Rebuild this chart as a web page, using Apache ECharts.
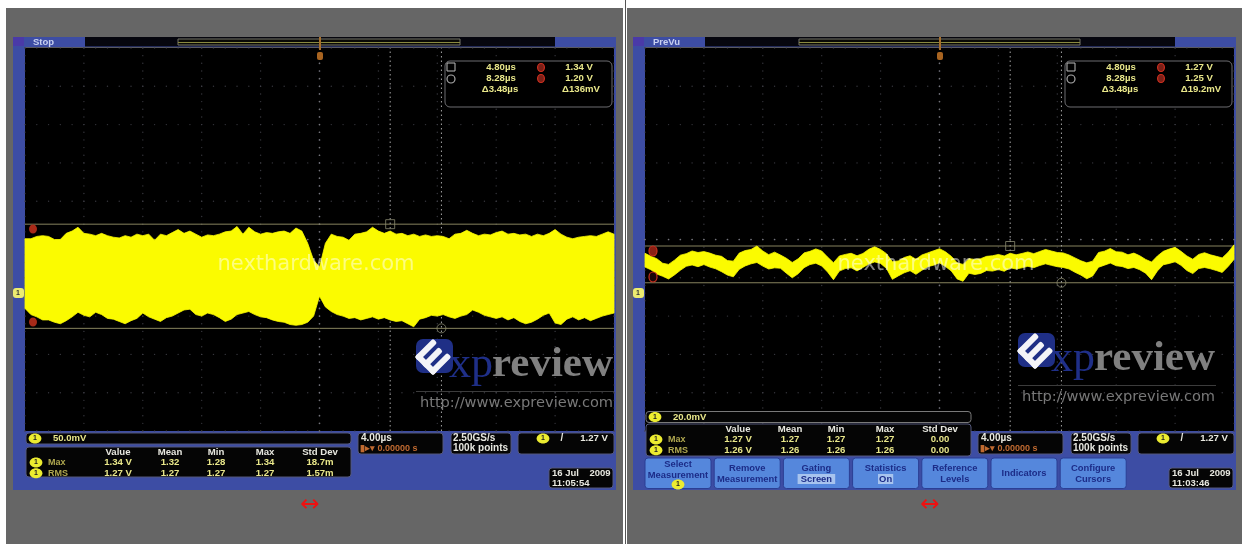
<!DOCTYPE html>
<html><head><meta charset="utf-8">
<style>html,body{margin:0;padding:0;background:#fff}#c{width:1242px;height:544px;filter:blur(0.75px)}</style>
<script src="https://cdn.jsdelivr.net/npm/echarts@6/dist/echarts.min.js"></script>
</head><body><div id="c"></div>
<script>
// Time base of each sweep: 101 samples, microseconds from the trigger
const timeUs=[-20,-19.6,-19.2,-18.8,-18.4,-18,-17.6,-17.2,-16.8,-16.4,-16,-15.6,-15.2,-14.8,-14.4,-14,-13.6,-13.2,-12.8,-12.4,-12,-11.6,-11.2,-10.8,-10.4,-10,-9.6,-9.2,-8.8,-8.4,-8,-7.6,-7.2,-6.8,-6.4,-6,-5.6,-5.2,-4.8,-4.4,-4,-3.6,-3.2,-2.8,-2.4,-2,-1.6,-1.2,-0.8,-0.4,0,0.4,0.8,1.2,1.6,2,2.4,2.8,3.2,3.6,4,4.4,4.8,5.2,5.6,6,6.4,6.8,7.2,7.6,8,8.4,8.8,9.2,9.6,10,10.4,10.8,11.2,11.6,12,12.4,12.8,13.2,13.6,14,14.4,14.8,15.2,15.6,16,16.4,16.8,17.2,17.6,18,18.4,18.8,19.2,19.6,20];
// Left capture (50 mV/div): envelope, mV
const leftHigh=[1321,1321,1324,1325,1324,1320,1320,1328,1331,1336,1328,1327,1325,1328,1325,1323,1322,1325,1323,1327,1325,1327,1319,1327,1325,1329,1333,1328,1331,1327,1323,1326,1325,1327,1330,1331,1337,1327,1336,1330,1327,1329,1328,1330,1331,1328,1335,1331,1315,1293,1284,1315,1327,1324,1323,1319,1327,1328,1330,1336,1331,1328,1331,1327,1328,1325,1327,1324,1326,1324,1325,1324,1321,1327,1328,1332,1328,1325,1327,1326,1329,1331,1327,1328,1326,1327,1324,1327,1325,1328,1333,1327,1323,1321,1323,1324,1325,1324,1327,1330,1327];
const leftLow=[1230,1222,1219,1215,1215,1212,1210,1214,1219,1225,1221,1219,1225,1222,1217,1216,1213,1210,1214,1217,1224,1219,1216,1213,1218,1220,1224,1228,1229,1222,1220,1224,1222,1218,1213,1216,1222,1224,1226,1222,1219,1218,1215,1213,1212,1209,1208,1209,1212,1220,1246,1232,1226,1222,1220,1217,1218,1215,1217,1219,1216,1218,1215,1213,1214,1210,1206,1216,1218,1221,1220,1222,1219,1217,1220,1222,1228,1225,1221,1219,1217,1219,1215,1218,1213,1210,1212,1216,1221,1224,1211,1209,1216,1219,1215,1218,1214,1217,1220,1222,1224];
// Right capture (20 mV/div): envelope, mV
const rightHigh=[1266.2,1264.6,1263.4,1261.0,1260.4,1262.6,1265.2,1266.0,1267.4,1266.6,1267.1,1266.3,1265.2,1264.6,1262.4,1262.1,1266.3,1267.6,1268.2,1270.0,1267.4,1265.5,1266.8,1265.3,1263.6,1261.4,1263.3,1266.4,1267.2,1268.5,1267.4,1264.2,1261.3,1264.8,1265.6,1266.2,1264.9,1266.1,1268.3,1269.6,1268.2,1266.0,1261.8,1262.2,1264.0,1264.9,1263.1,1265.3,1266.4,1267.5,1268.6,1267.0,1264.6,1261.2,1260.4,1263.4,1263.0,1263.4,1264.6,1264.9,1265.6,1264.8,1266.2,1265.4,1266.1,1266.9,1266.0,1267.1,1268.2,1267.4,1266.6,1266.4,1265.3,1263.8,1262.3,1261.2,1262.1,1266.6,1267.3,1268.7,1267.0,1266.8,1265.4,1266.3,1264.9,1263.0,1261.6,1264.8,1267.2,1268.4,1269.3,1267.2,1264.8,1263.1,1265.6,1266.5,1265.4,1264.6,1263.8,1266.7,1270.6];
const rightLow=[1259.0,1257.6,1255.4,1254.2,1252.8,1254.9,1257.3,1259.4,1260.1,1259.2,1260.3,1259.0,1258.1,1256.6,1254.8,1253.9,1257.8,1259.6,1260.7,1261.4,1259.5,1258.0,1258.6,1258.4,1255.8,1253.4,1255.5,1258.7,1260.3,1261.0,1259.6,1256.4,1252.4,1256.9,1258.2,1258.6,1257.0,1258.8,1260.6,1261.7,1260.9,1258.3,1252.6,1254.4,1256.0,1257.1,1255.2,1257.3,1259.2,1260.0,1261.2,1259.3,1257.0,1252.8,1251.6,1255.8,1255.1,1255.7,1257.2,1256.9,1257.7,1256.8,1258.6,1258.0,1258.6,1259.4,1258.7,1259.8,1260.7,1259.9,1259.2,1258.8,1258.0,1256.3,1254.8,1252.9,1254.3,1258.9,1260.0,1261.1,1259.7,1259.3,1258.2,1258.8,1257.6,1255.8,1252.4,1257.0,1260.2,1260.9,1261.8,1259.9,1257.2,1255.6,1258.2,1258.8,1258.1,1257.2,1256.2,1259.3,1263.0];
// Cursors, µs and mV
const leftCursorV=[1340,1204], rightCursorV=[1270,1250.8], cursorT=[4.8,8.28];
// Readout texts
const leftReadout=['4.80µs','1.34 V','8.28µs','1.20 V','Δ3.48µs','Δ136mV'];
const rightReadout=['4.80µs','1.27 V','8.28µs','1.25 V','Δ3.48µs','Δ19.2mV'];
const statHeaders=['Value','Mean','Min','Max','Std Dev'];
const leftStats=[['Max','1.34 V','1.32','1.28','1.34','18.7m'],['RMS','1.27 V','1.27','1.27','1.27','1.57m']];
const rightStats=[['Max','1.27 V','1.27','1.27','1.27','0.00'],['RMS','1.26 V','1.26','1.26','1.26','0.00']];
const buttonLabels=[['Select','Measurement'],['Remove','Measurement'],['Gating','Screen'],['Statistics','On'],['Reference','Levels'],['Indicators'],['Configure','Cursors']];

const FONT='"Liberation Sans",Arial,sans-serif';
const SERIF='"Liberation Serif",serif';
const BLUE='#3d4da4', Y='#e9e78a';
const g=[];
function rect(x,y,w,h,fill,stroke,r,z,lw){g.push({type:'rect',z:z==null?-5:z,silent:true,shape:{x,y,width:w,height:h,r:r||0},style:{fill:fill||'transparent',stroke:stroke||null,lineWidth:lw||1}});}
function ell(cx,cy,rx,ry,fill,stroke,z){g.push({type:'ellipse',z:z||30,silent:true,shape:{cx,cy,rx,ry},style:{fill:fill||'transparent',stroke:stroke||null,lineWidth:1.2}});}
function txt(x,y,s,fill,size,opt){opt=opt||{};g.push({type:'text',z:opt.z||40,silent:true,x,y,style:{text:s,fill,font:(opt.weight||'bold')+' '+size+'px '+(opt.family||FONT),textAlign:opt.align||'center',textVerticalAlign:'middle',opacity:opt.op==null?1:opt.op}});}
function pill(cx,cy){ell(cx,cy,6.4,5,'#ecec30');txt(cx,cy,'1','#222',7,{z:41});}

function panel(d,cfg){
  rect(d+13,37,603,453,BLUE);
  rect(d+13,37,11,9,'#4a3aa8');
  rect(d+25,48,589,383,'#000');
  rect(d+25,47,589,1,'#5a5a62');
  // header strip
  rect(d+85,37,470,9.5,'#06060e');
  rect(d+cfg.ovX,39,cfg.ovW,6,'#0a0a06','#77776a');
  rect(d+cfg.ovX,42,cfg.ovW,1,'#8a8a40');
  txt(d+33,42,cfg.state,'#c8d0f0',9.5,{align:'left'});
  rect(d+319,37,2,13,'#a8702c',null,0,20);
  rect(d+317,52,6,8,'#a86420',null,2,20);
  // readout box
  rect(d+445,61,167,46,'#000','#6d6d70',5,25);
  rect(d+447,63,8,8,'#000','#bbb',0,26);
  ell(d+451,79,4,4,null,'#aaa',26);
  const xs=[d+501,d+579];
  cfg.readout.forEach((s,i)=>{const r=Math.floor(i/2),c=i%2;txt(xs[c]+(r==2?(c?2:-1):0),67.5+r*10.7,s,Y,9.6);});
  ell(d+541,67.5,3.4,4,'#7a2018','#d03020',26);
  ell(d+541,78.5,3.4,4,'#7a2018','#d03020',26);
  // channel marks
  if(!d){ell(33,229,4,4.5,'#a82a18',null,26);ell(33,322,4,4.5,'#a82a18',null,26);}
  else{ell(d+33,251,4,5,'#8a2014','#c83020',26);ell(d+33,277,4,5,'#1a0808','#c83020',26);}
  rect(d+13,288,11,10,'#ecec70',null,3,20);
  txt(d+18,293,'1','#333',7,{z:41});
  // watermark
  txt(d+316,265,'nexthardware.com','#ffffff',21,{z:35,weight:'normal',op:0.5,family:'"DejaVu Sans",sans-serif'});
  // logo
  const lx=cfg.logoX, ly=cfg.logoY;
  rect(lx+416,ly+339,37,34,'#1f2f86',null,7,49);
  const bars=[{x:-13,y:-13,width:6,height:26,r:2},{x:-13,y:-13,width:26,height:6,r:2},{x:-13,y:-3,width:24,height:6,r:2},{x:-13,y:7,width:26,height:6,r:2}];
  g.push({type:'group',z:50,silent:true,x:lx+433,y:ly+357,rotation:Math.PI/4,children:bars.map(s=>({type:'rect',z:51,shape:s,style:{fill:'#f4f4f8'}}))});
  txt(lx+449,ly+365,'xp','#1f2f88',44,{align:'left',family:SERIF,weight:'normal',z:49});
  txt(lx+492,ly+365,'review','#808080',43,{align:'left',family:SERIF,z:49});
  rect(lx+416,ly+391,198,1,'#3c3c3c',null,0,49);
  txt(lx+516.5,ly+403,'http://www.expreview.com','#787878',14.6,{z:49,weight:'normal',family:'"DejaVu Sans",sans-serif'});
  // channel scale strip
  const st=cfg.stripY;
  rect(d+26,st,325,11,'#050505',cfg.stripBorder,3,25);
  pill(d+35,st+5.5);
  txt(d+53,st+5.5,cfg.scale,Y,9.5,{align:'left'});
  // statistics box
  const sb=cfg.statY;
  rect(d+26,sb,325,cfg.statH,'#050505','#54587c',3,25);
  const cols=[118,170,216,265,320];
  statHeaders.forEach((h,i)=>txt(d+cols[i],sb+5.5,h,'#e8e8e0',9.6));
  cfg.stats.forEach((row,r)=>{
    const y=sb+15.5+r*10.7;
    pill(d+36,y);
    txt(d+48,y,row[0],'#b0a850',9,{align:'left'});
    row.slice(1).forEach((s,i)=>txt(d+cols[i],y,s,Y,9.6));
  });
  // timebase, sample and trigger boxes
  rect(d+358,433,85,21,'#050505','#54587c',3,25);
  txt(d+361,438.5,'4.00µs','#e8e8e0',10,{align:'left'});
  txt(d+360,448.5,'▮▸▾ 0.00000 s','#c06a30',9,{align:'left'});
  rect(d+451,433,60,21,'#050505','#54587c',3,25);
  txt(d+453,438.5,'2.50GS/s','#e8e8e0',10,{align:'left'});
  txt(d+453,448.5,'100k points','#e8e8e0',10,{align:'left'});
  rect(d+518,433,96,21,'#050505','#54587c',3,25);
  pill(d+543,438.5);
  txt(d+562,438.5,'/','#e8e8e0',10);
  txt(d+594,438.5,'1.27 V','#e8e8e0',9.6);
  // date
  rect(d+549,468,64,20,'#050505','#54587c',3,25);
  txt(d+552,473.5,cfg.date[0],'#e8e8e0',9.5,{align:'left'});
  txt(d+552,483,cfg.date[1],'#e8e8e0',9.5,{align:'left'});
  // link arrow
  txt(d+310,505,'↔','#f01010',23,{family:'"DejaVu Sans",sans-serif',weight:'normal'});
}
rect(6,8,617,536,'#666666');
rect(625,0,1,544,'#555555');
rect(627,8,615,536,'#666666');
panel(0,{state:'Stop',ovX:178,ovW:282,logoX:0,logoY:0,readout:leftReadout,stripY:433,stripBorder:'#54587c',statY:447,statH:30,scale:'50.0mV',stats:leftStats,date:['16 Jul    2009','11:05:54']});
panel(620,{state:'PreVu',ovX:179,ovW:281,logoX:602,logoY:-6,readout:rightReadout,stripY:411.5,stripBorder:'#7a7a7a',statY:424,statH:32,scale:'20.0mV',stats:rightStats,date:['16 Jul    2009','11:03:46']});
// menu buttons (right capture)
buttonLabels.forEach((lines,i)=>{
  const x=645+i*69.2;
  rect(x,458,66,30.5,'#5587dc','#2b3f94',3,30);
  lines.forEach((s,k)=>{
    const y=i==0?464+k*11:(lines.length>1?468.5:473.5)+k*10.5;
    if(k==1&&(i==2||i==3)){rect(x+33-(s.length*2.8+2),y-5,s.length*5.6+4,10,'#a8c4ee',null,0,31);}
    txt(x+33,y,s,'#1c2c88',9.4,{z:42});
  });
  if(i==0)pill(x+33,484.5);
});

// graticule positions (µs; divisions from the screen centre)
const divT=[-20,-16,-12,-8,-4,0,4,8,12,16,20];
const fineT=[];for(let t=-20;t<=20.01;t+=0.8)fineT.push(+t.toFixed(1));
const divY=[-5,-4,-3,-2,-1,0,1,2,3,4,5];
const fineDiv=[];for(let k=-5;k<=5.01;k+=0.2)fineDiv.push(+k.toFixed(1));
function graticule(cv,perDiv){
  const faint=[],bright=[];
  divY.forEach(k=>fineT.forEach(t=>faint.push([t,cv+k*perDiv])));
  divT.forEach(t=>fineDiv.forEach(k=>faint.push([t,cv+k*perDiv])));
  fineT.forEach(t=>bright.push([t,cv]));
  fineDiv.forEach(k=>bright.push([0,cv+k*perDiv]));
  return{faint,bright};
}
const grids=[{left:25,top:48,width:589,height:383,show:false},{left:645,top:48,width:589,height:383,show:false}];
const xAxes=[0,1].map(i=>({gridIndex:i,type:'value',min:-20,max:20,interval:4,show:false}));
const yAxes=[{gridIndex:0,type:'value',min:1070,max:1570,show:false,scale:true},{gridIndex:1,type:'value',min:1173.4,max:1373.4,show:false,scale:true}];
const series=[];
// One closed band: along the upper edge, then back along the lower edge
function bandItem(params,api){
  if(params.dataIndexInside!==0)return null;
  const n=params.dataInsideLength, top=[], bottom=[];
  for(let i=0;i<n;i++){
    top.push(api.coord([api.value(0,i),api.value(1,i)]));
    bottom.push(api.coord([api.value(0,i),api.value(2,i)]));
  }
  return{type:'polygon',shape:{points:top.concat(bottom.reverse())},style:{fill:'#fbfb00',stroke:'#fbfb00',lineWidth:0.8}};
}
function sweep(i,high,low,curV,cv,perDiv){
  const gr=graticule(cv,perDiv);
  const base={xAxisIndex:i,yAxisIndex:i,silent:true,animation:false};
  series.push({...base,type:'scatter',z:1,symbolSize:1.4,itemStyle:{color:'#44444c'},data:gr.faint});
  series.push({...base,type:'scatter',z:1,symbolSize:1.7,itemStyle:{color:'#84848c'},data:gr.bright});
  const yT=yAxes[i].min, yB=yAxes[i].max;
  curV.forEach(v=>series.push({...base,type:'line',symbol:'none',z:2,lineStyle:{width:1,color:'#87835e'},data:[[-20,v],[20,v]]}));
  cursorT.forEach(t=>series.push({...base,type:'line',symbol:'none',z:2,lineStyle:{width:1,color:'#a4a4a4',type:[1.5,3]},data:[[t,yT],[t,yB]]}));
  series.push({...base,type:'custom',name:'envelope'+i,z:3,renderItem:bandItem,encode:{x:0,y:[1,2]},data:timeUs.map((t,k)=>[t,high[k],low[k]])});
  series.push({...base,type:'scatter',z:6,symbol:'rect',symbolSize:9,itemStyle:{color:'rgba(0,0,0,0)',borderColor:'#8a8a70',borderWidth:1},data:[[cursorT[0],curV[0]]]});
  series.push({...base,type:'scatter',z:6,symbol:'circle',symbolSize:9,itemStyle:{color:'rgba(0,0,0,0)',borderColor:'#8a8a70',borderWidth:1},data:[[cursorT[1],curV[1]]]});
}
sweep(0,leftHigh,leftLow,leftCursorV,1320,50);
sweep(1,rightHigh,rightLow,rightCursorV,1273.4,20);

const chart=echarts.init(document.getElementById('c'),null,{renderer:'canvas',width:1242,height:544});
chart.setOption({animation:false,backgroundColor:'#ffffff',grid:grids,xAxis:xAxes,yAxis:yAxes,tooltip:{show:false},series,graphic:{elements:g}});
</script></body></html>
